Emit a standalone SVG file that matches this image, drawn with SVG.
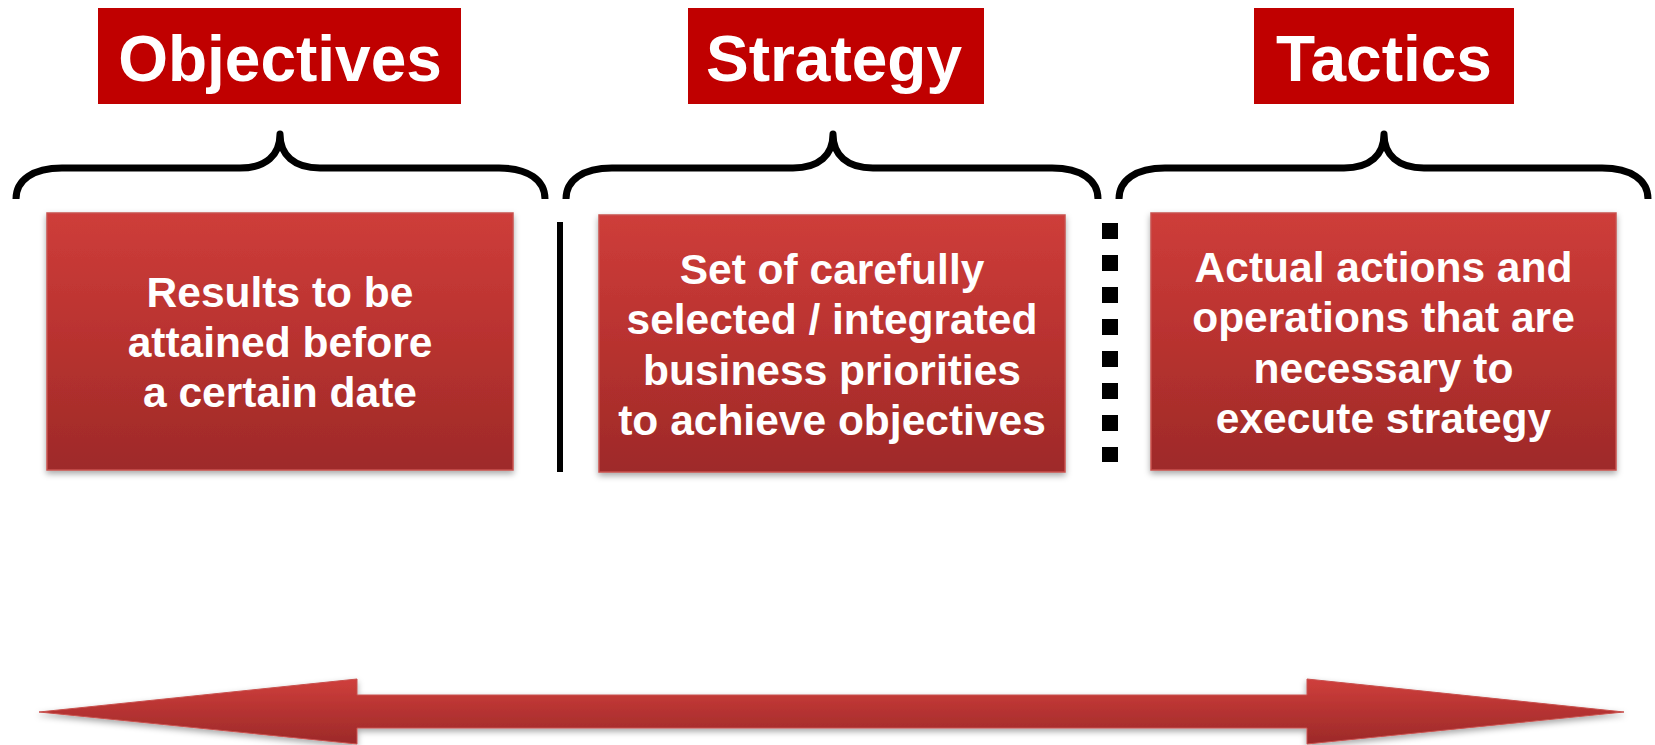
<svg xmlns="http://www.w3.org/2000/svg" width="1655" height="745" viewBox="0 0 1655 745">
  <defs>
    <linearGradient id="redGrad" x1="0" y1="0" x2="0" y2="1">
      <stop offset="0" stop-color="#CE3D3A"/>
      <stop offset="0.5" stop-color="#B8322F"/>
      <stop offset="1" stop-color="#9E2A29"/>
    </linearGradient>
    <linearGradient id="arrowGrad" x1="0" y1="0" x2="0" y2="1">
      <stop offset="0" stop-color="#CF3F3C"/>
      <stop offset="0.5" stop-color="#B53331"/>
      <stop offset="1" stop-color="#9C2A29"/>
    </linearGradient>
    <filter id="shadow" x="-5%" y="-10%" width="110%" height="125%">
      <feDropShadow dx="0" dy="3" stdDeviation="3" flood-color="#000" flood-opacity="0.35"/>
    </filter>
  </defs>
  <style>
    .title-box { fill: #C00000; }
    .title-text { fill: #FFFFFF; font-family: "Liberation Sans", Arial, sans-serif; font-weight: bold; font-size: 64px; text-anchor: middle; }
    .content-box { fill: url(#redGrad); stroke: #C8514E; stroke-width: 1.5; filter: url(#shadow); }
    .content-text { fill: #FFFFFF; font-family: "Liberation Sans", Arial, sans-serif; font-weight: bold; font-size: 42.5px; text-anchor: middle; }
    .brace { fill: none; stroke: #000000; stroke-width: 7; stroke-linejoin: round; }
  </style>
  <rect width="1655" height="745" fill="#FFFFFF"/>

  <g id="objectives-title">
    <rect class="title-box" x="98" y="8" width="363" height="96"/>
    <text class="title-text" x="280" y="81">Objectives</text>
  </g>
  <g id="strategy-title">
    <rect class="title-box" x="688" y="8" width="296" height="96"/>
    <text class="title-text" x="834" y="81">Strategy</text>
  </g>
  <g id="tactics-title">
    <rect class="title-box" x="1254" y="8" width="260" height="96"/>
    <text class="title-text" x="1384" y="81">Tactics</text>
  </g>

  <g id="braces">
    <path class="brace" d="M16,199 C16,180 33,168 62,168 L240,168 C266,168 280,155 280,134 C280,155 294,168 320,168 L499,168 C528,168 545,180 545,199"/>
    <path class="brace" d="M566,199 C566,180 583,168 612,168 L793,168 C819,168 833,155 833,134 C833,155 847,168 873,168 L1052,168 C1081,168 1098,180 1098,199"/>
    <path class="brace" d="M1119,199 C1119,180 1136,168 1165,168 L1344,168 C1370,168 1384,155 1384,134 C1384,155 1398,168 1424,168 L1602,168 C1631,168 1648,180 1648,199"/>
  </g>

  <g id="objectives-box">
    <rect class="content-box" x="47" y="213" width="466" height="257"/>
    <text class="content-text" x="280" y="307">Results to be</text>
    <text class="content-text" x="280" y="357">attained before</text>
    <text class="content-text" x="280" y="407">a certain date</text>
  </g>
  <g id="strategy-box">
    <rect class="content-box" x="599" y="215" width="466" height="257"/>
    <text class="content-text" x="832" y="283.5">Set of carefully</text>
    <text class="content-text" x="832" y="334">selected / integrated</text>
    <text class="content-text" x="832" y="384.5">business priorities</text>
    <text class="content-text" x="832" y="435">to achieve objectives</text>
  </g>
  <g id="tactics-box">
    <rect class="content-box" x="1151" y="213" width="465" height="257"/>
    <text class="content-text" x="1383.5" y="281.5">Actual actions and</text>
    <text class="content-text" x="1383.5" y="332">operations that are</text>
    <text class="content-text" x="1383.5" y="382.5">necessary to</text>
    <text class="content-text" x="1383.5" y="433">execute strategy</text>
  </g>

  <g id="connectors">
    <line x1="560" y1="222" x2="560" y2="472" stroke="#000000" stroke-width="6"/>
    <line x1="1110" y1="223" x2="1110" y2="462" stroke="#000000" stroke-width="16" stroke-dasharray="16 16"/>
    <polygon points="39,712 357,679 357,695 1307,695 1307,679 1624,712 1307,744 1307,728 357,728 357,744" fill="url(#arrowGrad)" stroke="#C8514E" stroke-width="1" filter="url(#shadow)"/>
  </g>
</svg>
